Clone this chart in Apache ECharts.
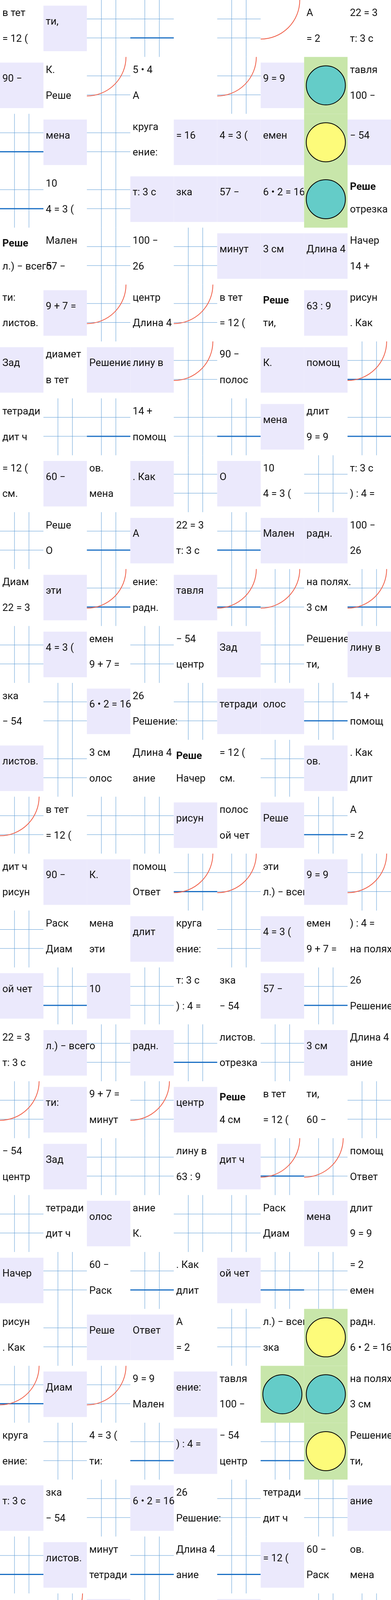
<!DOCTYPE html><html><head><meta charset="utf-8">
<script src="https://cdn.jsdelivr.net/npm/echarts@6/dist/echarts.min.js"></script>
<style>html,body{margin:0;padding:0;background:#fff}#c{width:1000px;height:7867px}</style></head><body><div id="c"></div><script>
const rows = [
"TLGGWGRTT","LTGTWGLCT","GLGTLLLCL","GTGLLLLCB","BTGTGLLLT","TLGTGTBLT","LTLLGTLLG","TGGTGGLTG",
"TLTLGLTGT","GTGLTGLLT","TLGTLGGTG","GLTGTLGTL","TGLTGLLGT","LGTTBTGLT","GTGGLTLGT","TLLTGGTLG",
"GTTLTGLTT","LGLGTTLGT","TLGLGTGLT","GLTGLBTTG","TLGGTLGGT","GTLTGGTLT","LGTGTLGGT","TGLLTGTCT",
"GLGTLTCCT","TGTGLTGCT","LTGLTGTGL","GLTGTGLTT","TGLGTLTGG","LTGTGLTTL","GCCLTLGTT","CCCGTLGLG",
"LTLGTLGTL","GTLTGLTGT","TLGTLGTLG","LTGGTLGTT","GLTGTLGLT","TGTLGTLGL","LGTGLTGTT","TLGLTGTLG",
"GTLGTLGTL","LGTTGLTGT","TLGLTGGLT","GTGLTLTGL","BLTGTLGTT","TGLTGLTGL","LTGTLGTLT","GTLGTGLTG",
"TLGTLGTGL","LGTLTGLTT","GLTGTLGTL","TGLTGTLGT","LTGLGTLGT","GLTGTLGTL"];
const texts = ["в тет","лину в","олос","Начер","ти,","дит ч","ание","= 12 (","63 : 9","90 −","14 +","60 −",
"рисун","К.","см.","ов.","полос","помощ","Раск",". Как","Реше","5 • 4","мена","ой чет","Ответ","Диам",
"длит","O","A","эти","круга","10","22 = 3","9 = 9","= 16","= 2","л.) − всего","ение:","4 = 3 (","т: 3 с",
"Мален","тавля","емен","зка","радн.","ти:",") : 4 =","57 −","100 −","9 + 7 =","− 54","6 • 2 = 16","листов.",
"на полях.","Зад","26","минут","центр","диамет","отрезка","3 см","4 см","Решение:","тетради","Длина 4"];
const types = {T:0,L:1,G:2,C:3,B:4,W:5,R:6};
const tiles = [];
rows.forEach((r,ri)=>{for(let ci=0;ci<r.length;ci++){tiles.push([ci,ri,types[r[ci]],(ri*9+ci*4)%texts.length]);}});
const chart = echarts.init(document.getElementById('c'));
chart.setOption({animation:false,
 grid:{left:0,right:0,top:0,bottom:0},
 xAxis:{type:'value',min:0,max:9,show:false},
 yAxis:{type:'value',min:0,max:rows.length,inverse:true,show:false},
 series:[{type:'custom',data:tiles,renderItem:(p,api)=>{
  const x=api.value(0),y=api.value(1),t=api.value(2),k=api.value(3);
  const a=api.coord([x,y]),b=api.coord([x+1,y+1]);
  const w=b[0]-a[0],h=b[1]-a[1];
  const ch=[];
  const txt=(s,dy,bold)=>({type:'text',style:{text:s,x:a[0]+6,y:a[1]+dy,fill:'#111',font:(bold?'bold ':'')+'26px Roboto'}});
  if(t===1){ch.push({type:'rect',shape:{x:a[0],y:a[1]+h*0.1,width:w,height:h*0.8},style:{fill:'#ebe9fc'}});ch.push(txt(texts[k],h*0.3));}
  else if(t===2){for(let i=1;i<3;i++){ch.push({type:'line',shape:{x1:a[0]+w*i/3,y1:a[1],x2:a[0]+w*i/3,y2:b[1]},style:{stroke:'#5b9bd5',lineWidth:1}});
     ch.push({type:'line',shape:{x1:a[0],y1:a[1]+h*i/3,x2:b[0],y2:a[1]+h*i/3},style:{stroke:'#5b9bd5',lineWidth:1}});}
     if(k%3===0)ch.push({type:'line',shape:{x1:a[0],y1:a[1]+h*2/3,x2:b[0],y2:a[1]+h*2/3},style:{stroke:'#1a6fc4',lineWidth:3}});
     if(k%4===1)ch.push({type:'arc',shape:{cx:a[0],cy:a[1],r:w*0.9,startAngle:0,endAngle:Math.PI/2},style:{stroke:'#f0604a',fill:null,lineWidth:2}});}
  else if(t===3){ch.push({type:'rect',shape:{x:a[0],y:a[1],width:w,height:h},style:{fill:'#c8e6aa'}});
     ch.push({type:'circle',shape:{cx:a[0]+w/2,cy:a[1]+h/2,r:Math.min(w,h)*0.45},style:{fill:k%2?'#64ccc8':'#fdfb7a',stroke:'#000',lineWidth:2}});}
  else if(t===4){ch.push(txt(texts[20],h*0.2,true));ch.push(txt(texts[k],h*0.6));}
  else if(t===0){ch.push(txt(texts[k],h*0.15));ch.push(txt(texts[(k+7)%texts.length],h*0.6));}
  else if(t===6){ch.push({type:'arc',shape:{cx:a[0],cy:a[1],r:w*0.9,startAngle:0,endAngle:Math.PI/2},style:{stroke:'#f0604a',fill:null,lineWidth:2}});}
  return {type:'group',children:ch};
 }}]});
</script></body></html>
